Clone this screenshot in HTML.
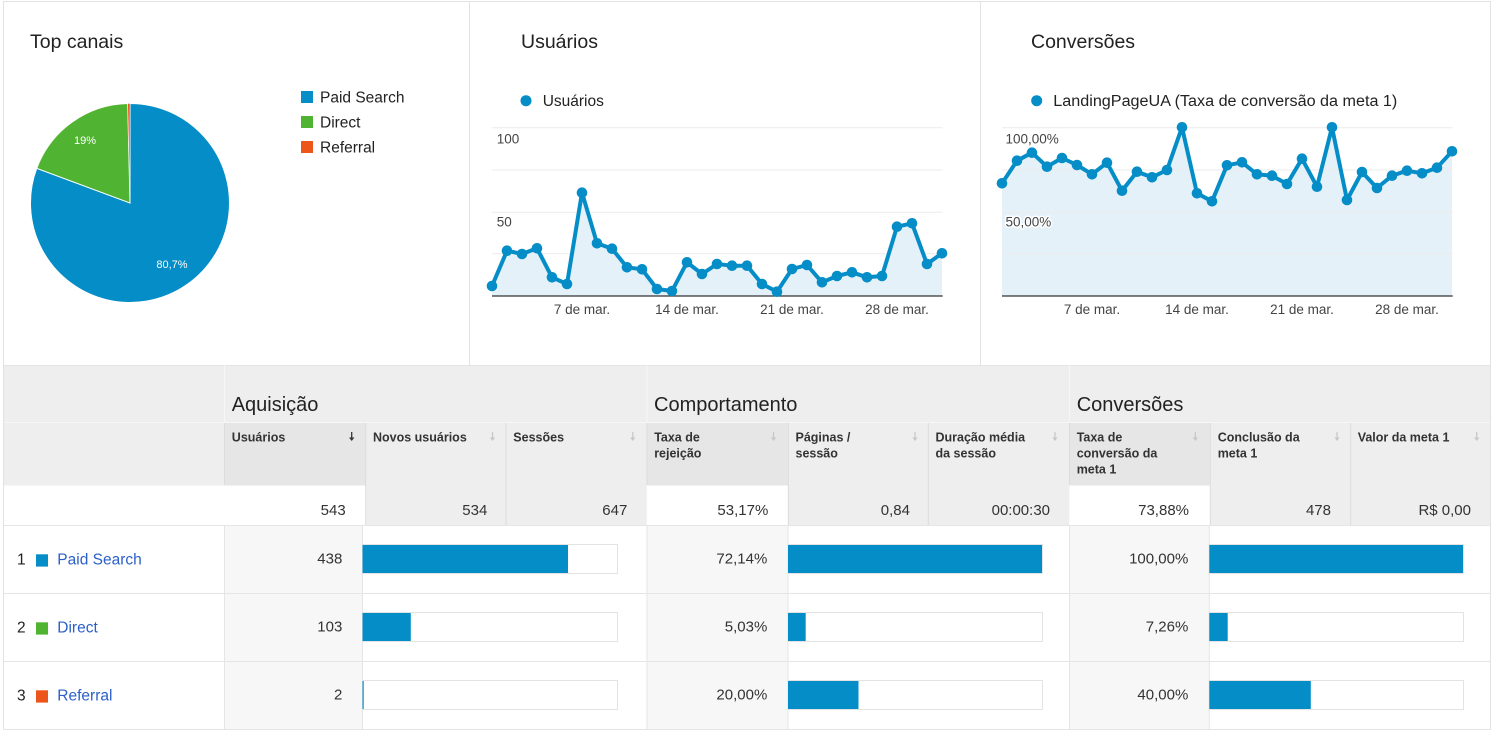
<!DOCTYPE html>
<html>
<head>
<meta charset="utf-8">
<style>
html,body{margin:0;padding:0;background:#fff;}
svg{display:block;}
text{font-family:"Liberation Sans",Arial,sans-serif;}
</style>
</head>
<body>
<svg width="1501" height="738" viewBox="0 0 1501 738" xmlns="http://www.w3.org/2000/svg">
<rect x="0" y="0" width="1501" height="738" fill="#fff"/>

<!-- ===== Top cards borders ===== -->
<line x1="3" y1="1.5" x2="1490.5" y2="1.5" stroke="#e2e2e2" stroke-width="1"/>
<line x1="3.5" y1="1" x2="3.5" y2="730" stroke="#e2e2e2" stroke-width="1"/>
<line x1="1490.5" y1="1" x2="1490.5" y2="730" stroke="#e2e2e2" stroke-width="1"/>
<line x1="469.5" y1="1" x2="469.5" y2="365" stroke="#e2e2e2" stroke-width="1"/>
<line x1="980.5" y1="1" x2="980.5" y2="365" stroke="#e2e2e2" stroke-width="1"/>

<!-- Titles -->
<text x="30" y="48" font-size="19.5" fill="#222">Top canais</text>
<text x="521" y="48" font-size="19.5" fill="#222">Usuários</text>
<text x="1031" y="48" font-size="19.5" fill="#222">Conversões</text>

<!-- ===== Pie ===== -->
<path d="M130,203 L130,103.5 A99.5,99.5 0 1 1 36.74,168.3 Z" fill="#058dc7" stroke="#fff" stroke-width="1"/>
<path d="M130,203 L36.74,168.3 A99.5,99.5 0 0 1 127.7,103.5 Z" fill="#50b432" stroke="#fff" stroke-width="1"/>
<path d="M130,203 L127.7,103.5 A99.5,99.5 0 0 1 130,103.5 Z" fill="#ed561b" stroke="#fff" stroke-width="0.5"/>
<text x="85" y="144" font-size="11" fill="#fff" text-anchor="middle">19%</text>
<text x="172" y="268" font-size="11" fill="#fff" text-anchor="middle">80,7%</text>

<!-- Pie legend -->
<rect x="301" y="91" width="12" height="12" fill="#058dc7"/>
<text x="320" y="102.5" font-size="15.5" fill="#222">Paid Search</text>
<rect x="301" y="116" width="12" height="12" fill="#50b432"/>
<text x="320" y="127.5" font-size="15.5" fill="#222">Direct</text>
<rect x="301" y="141" width="12" height="12" fill="#ed561b"/>
<text x="320" y="152.5" font-size="15.5" fill="#222">Referral</text>

<!-- ===== Usuários chart ===== -->
<circle cx="526" cy="100.7" r="5.5" fill="#058dc7"/>
<text x="542.7" y="106" font-size="15.5" fill="#222">Usuários</text>
<g stroke="#ebebeb" stroke-width="1">
<line x1="492" y1="127.7" x2="942.7" y2="127.7"/>
<line x1="492" y1="170" x2="942.7" y2="170"/>
<line x1="492" y1="212.3" x2="942.7" y2="212.3"/>
<line x1="492" y1="253.7" x2="942.7" y2="253.7"/>
</g>
<polygon fill="#e4f1f8" points="492,296 492,286 507,250.7 522,254 537,248.3 552,277.3 567,284 582,192.7 597,243.3 612,248.7 627,267.3 642,269.3 657,289 672,291 687,262.3 702,274 717,264 732,265.7 747,265.7 762,284 777,291.7 792,269 807,265 822,282.3 837,276 852,272.3 867,277.3 882,276 897,226.7 912,223.3 927,264 942,253.3 942,296"/>
<text x="496.7" y="143.3" font-size="13.5" fill="#444">100</text>
<text x="496.7" y="226.7" font-size="13.5" fill="#444">50</text>
<line x1="492" y1="296" x2="942.7" y2="296" stroke="#333" stroke-width="1.3"/>
<polyline fill="none" stroke="#058dc7" stroke-width="4" stroke-linejoin="round" points="492,286 507,250.7 522,254 537,248.3 552,277.3 567,284 582,192.7 597,243.3 612,248.7 627,267.3 642,269.3 657,289 672,291 687,262.3 702,274 717,264 732,265.7 747,265.7 762,284 777,291.7 792,269 807,265 822,282.3 837,276 852,272.3 867,277.3 882,276 897,226.7 912,223.3 927,264 942,253.3"/>
<g fill="#058dc7">
<circle cx="492" cy="286" r="5.3"/><circle cx="507" cy="250.7" r="5.3"/><circle cx="522" cy="254" r="5.3"/><circle cx="537" cy="248.3" r="5.3"/><circle cx="552" cy="277.3" r="5.3"/><circle cx="567" cy="284" r="5.3"/><circle cx="582" cy="192.7" r="5.3"/><circle cx="597" cy="243.3" r="5.3"/><circle cx="612" cy="248.7" r="5.3"/><circle cx="627" cy="267.3" r="5.3"/><circle cx="642" cy="269.3" r="5.3"/><circle cx="657" cy="289" r="5.3"/><circle cx="672" cy="291" r="5.3"/><circle cx="687" cy="262.3" r="5.3"/><circle cx="702" cy="274" r="5.3"/><circle cx="717" cy="264" r="5.3"/><circle cx="732" cy="265.7" r="5.3"/><circle cx="747" cy="265.7" r="5.3"/><circle cx="762" cy="284" r="5.3"/><circle cx="777" cy="291.7" r="5.3"/><circle cx="792" cy="269" r="5.3"/><circle cx="807" cy="265" r="5.3"/><circle cx="822" cy="282.3" r="5.3"/><circle cx="837" cy="276" r="5.3"/><circle cx="852" cy="272.3" r="5.3"/><circle cx="867" cy="277.3" r="5.3"/><circle cx="882" cy="276" r="5.3"/><circle cx="897" cy="226.7" r="5.3"/><circle cx="912" cy="223.3" r="5.3"/><circle cx="927" cy="264" r="5.3"/><circle cx="942" cy="253.3" r="5.3"/>
</g>
<g font-size="13.5" fill="#444" text-anchor="middle">
<text x="582" y="314">7 de mar.</text>
<text x="687" y="314">14 de mar.</text>
<text x="792" y="314">21 de mar.</text>
<text x="897" y="314">28 de mar.</text>
</g>

<!-- ===== Conversões chart ===== -->
<circle cx="1036.7" cy="100.7" r="5.5" fill="#058dc7"/>
<text x="1053.3" y="106" font-size="15.5" fill="#222" textLength="344" lengthAdjust="spacingAndGlyphs">LandingPageUA (Taxa de conversão da meta 1)</text>
<polygon fill="#e4f1f8" points="1002,296 1002,183.3 1017,160.7 1032,152.7 1047,166.7 1062,158 1077,165 1092,174.3 1107,162.7 1122,190.7 1137,171.7 1152,177.3 1167,170 1182,127.3 1197,193.3 1212,201.3 1227,165.3 1242,162.3 1257,174.3 1272,175.7 1287,184 1302,158.7 1317,186.7 1332,127.3 1347,200 1362,172 1377,188 1392,175.7 1407,170.7 1422,173.3 1437,167.7 1452,151.3 1452,296"/>
<g stroke="#ebebeb" stroke-width="1">
<line x1="1002" y1="127.7" x2="1452.7" y2="127.7"/>
<line x1="1002" y1="170" x2="1452.7" y2="170"/>
<line x1="1002" y1="212.3" x2="1452.7" y2="212.3"/>
<line x1="1002" y1="253.7" x2="1452.7" y2="253.7"/>
</g>
<text x="1005.5" y="143.3" font-size="13.5" fill="#444" stroke="#fff" stroke-width="3" paint-order="stroke" stroke-linejoin="round">100,00%</text>
<text x="1005.5" y="226.7" font-size="13.5" fill="#444" stroke="#fff" stroke-width="3" paint-order="stroke" stroke-linejoin="round">50,00%</text>
<line x1="1002" y1="296" x2="1452.7" y2="296" stroke="#333" stroke-width="1.3"/>
<polyline fill="none" stroke="#058dc7" stroke-width="4" stroke-linejoin="round" points="1002,183.3 1017,160.7 1032,152.7 1047,166.7 1062,158 1077,165 1092,174.3 1107,162.7 1122,190.7 1137,171.7 1152,177.3 1167,170 1182,127.3 1197,193.3 1212,201.3 1227,165.3 1242,162.3 1257,174.3 1272,175.7 1287,184 1302,158.7 1317,186.7 1332,127.3 1347,200 1362,172 1377,188 1392,175.7 1407,170.7 1422,173.3 1437,167.7 1452,151.3"/>
<g fill="#058dc7">
<circle cx="1002" cy="183.3" r="5.3"/><circle cx="1017" cy="160.7" r="5.3"/><circle cx="1032" cy="152.7" r="5.3"/><circle cx="1047" cy="166.7" r="5.3"/><circle cx="1062" cy="158" r="5.3"/><circle cx="1077" cy="165" r="5.3"/><circle cx="1092" cy="174.3" r="5.3"/><circle cx="1107" cy="162.7" r="5.3"/><circle cx="1122" cy="190.7" r="5.3"/><circle cx="1137" cy="171.7" r="5.3"/><circle cx="1152" cy="177.3" r="5.3"/><circle cx="1167" cy="170" r="5.3"/><circle cx="1182" cy="127.3" r="5.3"/><circle cx="1197" cy="193.3" r="5.3"/><circle cx="1212" cy="201.3" r="5.3"/><circle cx="1227" cy="165.3" r="5.3"/><circle cx="1242" cy="162.3" r="5.3"/><circle cx="1257" cy="174.3" r="5.3"/><circle cx="1272" cy="175.7" r="5.3"/><circle cx="1287" cy="184" r="5.3"/><circle cx="1302" cy="158.7" r="5.3"/><circle cx="1317" cy="186.7" r="5.3"/><circle cx="1332" cy="127.3" r="5.3"/><circle cx="1347" cy="200" r="5.3"/><circle cx="1362" cy="172" r="5.3"/><circle cx="1377" cy="188" r="5.3"/><circle cx="1392" cy="175.7" r="5.3"/><circle cx="1407" cy="170.7" r="5.3"/><circle cx="1422" cy="173.3" r="5.3"/><circle cx="1437" cy="167.7" r="5.3"/><circle cx="1452" cy="151.3" r="5.3"/>
</g>
<g font-size="13.5" fill="#444" text-anchor="middle">
<text x="1092" y="314">7 de mar.</text>
<text x="1197" y="314">14 de mar.</text>
<text x="1302" y="314">21 de mar.</text>
<text x="1407" y="314">28 de mar.</text>
</g>

<!-- ===== Table ===== -->
<!-- header backgrounds -->
<rect x="3.5" y="365" width="1487" height="120.5" fill="#eeeeee"/>
<line x1="3.5" y1="365.5" x2="1490.5" y2="365.5" stroke="#e4e4e4" stroke-width="1"/>
<!-- sorted / first-of-group subheader cells darker -->
<rect x="224.5" y="423" width="141" height="62.5" fill="#e6e6e6"/>
<rect x="647" y="423" width="141" height="62.5" fill="#e6e6e6"/>
<rect x="1069.5" y="423" width="141" height="62.5" fill="#e6e6e6"/>
<!-- header internal lines -->
<line x1="3.5" y1="422.5" x2="1490.5" y2="422.5" stroke="#f6f6f6" stroke-width="1"/>
<g stroke="#f6f6f6" stroke-width="1">
<line x1="224.5" y1="365" x2="224.5" y2="422"/>
<line x1="647" y1="365" x2="647" y2="422"/>
<line x1="1069.5" y1="365" x2="1069.5" y2="422"/>
</g>
<g stroke="#dcdcdc" stroke-width="1">
<line x1="224.5" y1="423" x2="224.5" y2="485"/>
<line x1="365.7" y1="423" x2="365.7" y2="525"/>
<line x1="506" y1="423" x2="506" y2="525"/>
<line x1="647" y1="423" x2="647" y2="485"/>
<line x1="788.3" y1="423" x2="788.3" y2="525"/>
<line x1="928.3" y1="423" x2="928.3" y2="525"/>
<line x1="1069.5" y1="423" x2="1069.5" y2="485"/>
<line x1="1210.3" y1="423" x2="1210.3" y2="525"/>
<line x1="1350.7" y1="423" x2="1350.7" y2="525"/>
</g>

<!-- group titles -->
<text x="231.7" y="411" font-size="20" fill="#222">Aquisição</text>
<text x="654" y="411" font-size="20" fill="#222">Comportamento</text>
<text x="1076.7" y="411" font-size="20" fill="#222">Conversões</text>

<!-- subheader labels -->
<g font-size="12.5" font-weight="bold" fill="#333">
<text x="231.8" y="441.5">Usuários</text>
<text x="373" y="441.5">Novos usuários</text>
<text x="513.3" y="441.5">Sessões</text>
<text x="654.2" y="441.5">Taxa de</text>
<text x="654.2" y="457.5">rejeição</text>
<text x="795.5" y="441.5">Páginas /</text>
<text x="795.5" y="457.5">sessão</text>
<text x="935.5" y="441.5">Duração média</text>
<text x="935.5" y="457.5">da sessão</text>
<text x="1076.7" y="441.5">Taxa de</text>
<text x="1076.7" y="457.5">conversão da</text>
<text x="1076.7" y="473.5">meta 1</text>
<text x="1217.7" y="441.5">Conclusão da</text>
<text x="1217.7" y="457.5">meta 1</text>
<text x="1357.7" y="441.5">Valor da meta 1</text>
</g>
<!-- sort arrows -->
<g stroke-width="1.3">
<g stroke="#333" fill="#333"><line x1="351.7" y1="432" x2="351.7" y2="438"/><path d="M349,437.5 L354.4,437.5 L351.7,441 Z" stroke="none"/></g>
<g stroke="#c8c8c8" fill="#c8c8c8">
<line x1="492.5" y1="432" x2="492.5" y2="438"/><path d="M489.8,437.5 L495.2,437.5 L492.5,441 Z" stroke="none"/>
<line x1="632.8" y1="432" x2="632.8" y2="438"/><path d="M630.1,437.5 L635.5,437.5 L632.8,441 Z" stroke="none"/>
<line x1="773.5" y1="432" x2="773.5" y2="438"/><path d="M770.8,437.5 L776.2,437.5 L773.5,441 Z" stroke="none"/>
<line x1="915" y1="432" x2="915" y2="438"/><path d="M912.3,437.5 L917.7,437.5 L915,441 Z" stroke="none"/>
<line x1="1055" y1="432" x2="1055" y2="438"/><path d="M1052.3,437.5 L1057.7,437.5 L1055,441 Z" stroke="none"/>
<line x1="1195.3" y1="432" x2="1195.3" y2="438"/><path d="M1192.6,437.5 L1198,437.5 L1195.3,441 Z" stroke="none"/>
<line x1="1337" y1="432" x2="1337" y2="438"/><path d="M1334.3,437.5 L1339.7,437.5 L1337,441 Z" stroke="none"/>
<line x1="1476.7" y1="432" x2="1476.7" y2="438"/><path d="M1474,437.5 L1479.4,437.5 L1476.7,441 Z" stroke="none"/>
</g>
</g>

<!-- totals row -->
<rect x="3.5" y="485.5" width="221" height="40" fill="#fff"/>
<rect x="224.5" y="485.5" width="141" height="40" fill="#fff"/>
<rect x="366.2" y="485.5" width="280.5" height="40" fill="#eeeeee"/>
<rect x="647" y="485.5" width="141" height="40" fill="#fff"/>
<rect x="788.8" y="485.5" width="280.5" height="40" fill="#eeeeee"/>
<rect x="1069.5" y="485.5" width="140.5" height="40" fill="#fff"/>
<rect x="1210.8" y="485.5" width="279.5" height="40" fill="#eeeeee"/>
<g stroke="#dcdcdc" stroke-width="1">
<line x1="365.7" y1="485.5" x2="365.7" y2="525"/>
<line x1="506" y1="485.5" x2="506" y2="525"/>
<line x1="788.3" y1="485.5" x2="788.3" y2="525"/>
<line x1="928.3" y1="485.5" x2="928.3" y2="525"/>
<line x1="1210.3" y1="485.5" x2="1210.3" y2="525"/>
<line x1="1350.7" y1="485.5" x2="1350.7" y2="525"/>
</g>
<g font-size="15" fill="#333" text-anchor="end">
<text x="345.7" y="515">543</text>
<text x="487.3" y="515">534</text>
<text x="627.3" y="515">647</text>
<text x="768.3" y="515">53,17%</text>
<text x="910" y="515">0,84</text>
<text x="1050" y="515">00:00:30</text>
<text x="1189" y="515">73,88%</text>
<text x="1331" y="515">478</text>
<text x="1471" y="515">R$ 0,00</text>
</g>

<!-- data rows backgrounds -->
<rect x="224.5" y="525.5" width="138" height="204" fill="#f7f7f7"/>
<rect x="647" y="525.5" width="141" height="204" fill="#f7f7f7"/>
<rect x="1069.5" y="525.5" width="139.5" height="204" fill="#f7f7f7"/>

<!-- row lines -->
<g stroke="#e5e5e5" stroke-width="1">
<line x1="3.5" y1="525.5" x2="1490.5" y2="525.5"/>
<line x1="3.5" y1="593.5" x2="1490.5" y2="593.5"/>
<line x1="3.5" y1="661.5" x2="1490.5" y2="661.5"/>
<line x1="3.5" y1="729.5" x2="1490.5" y2="729.5"/>
<line x1="224.5" y1="525.5" x2="224.5" y2="729.5"/>
<line x1="362.5" y1="525.5" x2="362.5" y2="729.5"/>
<line x1="647" y1="525.5" x2="647" y2="729.5"/>
<line x1="788" y1="525.5" x2="788" y2="729.5"/>
<line x1="1069.5" y1="525.5" x2="1069.5" y2="729.5"/>
<line x1="1209.3" y1="525.5" x2="1209.3" y2="729.5"/>
</g>

<!-- row labels -->
<g font-size="15.5">
<text x="17" y="564.5" fill="#222">1</text>
<rect x="36" y="554.3" width="12" height="12.3" fill="#058dc7"/>
<text x="57.3" y="564.5" fill="#2a5fc9">Paid Search</text>
<text x="17" y="632.5" fill="#222">2</text>
<rect x="36" y="622.3" width="12" height="12.3" fill="#50b432"/>
<text x="57.3" y="632.5" fill="#2a5fc9">Direct</text>
<text x="17" y="700.5" fill="#222">3</text>
<rect x="36" y="690.3" width="12" height="12.3" fill="#ed561b"/>
<text x="57.3" y="700.5" fill="#2a5fc9">Referral</text>
</g>

<!-- row values -->
<g font-size="15" fill="#333" text-anchor="end">
<text x="342.3" y="563.3">438</text>
<text x="342.3" y="631.3">103</text>
<text x="342.3" y="699.3">2</text>
<text x="767.3" y="563.3">72,14%</text>
<text x="767.3" y="631.3">5,03%</text>
<text x="767.3" y="699.3">20,00%</text>
<text x="1188.3" y="563.3">100,00%</text>
<text x="1188.3" y="631.3">7,26%</text>
<text x="1188.3" y="699.3">40,00%</text>
</g>

<!-- bars -->
<g fill="#fff" stroke="#e3e3e3" stroke-width="1">
<rect x="362.5" y="544.5" width="255" height="29"/>
<rect x="362.5" y="612.5" width="255" height="29"/>
<rect x="362.5" y="680.5" width="255" height="29"/>
<rect x="788" y="544.5" width="254.5" height="29"/>
<rect x="788" y="612.5" width="254.5" height="29"/>
<rect x="788" y="680.5" width="254.5" height="29"/>
<rect x="1209.3" y="544.5" width="254.2" height="29"/>
<rect x="1209.3" y="612.5" width="254.2" height="29"/>
<rect x="1209.3" y="680.5" width="254.2" height="29"/>
</g>
<g fill="#058dc7">
<rect x="362.5" y="545" width="205.5" height="28"/>
<rect x="362.5" y="613" width="48.3" height="28"/>
<rect x="362.5" y="681" width="1.2" height="28"/>
<rect x="788" y="545" width="254" height="28"/>
<rect x="788" y="613" width="17.7" height="28"/>
<rect x="788" y="681" width="70.5" height="28"/>
<rect x="1209.3" y="545" width="253.7" height="28"/>
<rect x="1209.3" y="613" width="18.4" height="28"/>
<rect x="1209.3" y="681" width="101.5" height="28"/>
</g>

<!-- outer borders redraw -->
<line x1="3.5" y1="365" x2="3.5" y2="730" stroke="#e2e2e2" stroke-width="1"/>
<line x1="1490.5" y1="365" x2="1490.5" y2="730" stroke="#e2e2e2" stroke-width="1"/>
</svg>
</body>
</html>
